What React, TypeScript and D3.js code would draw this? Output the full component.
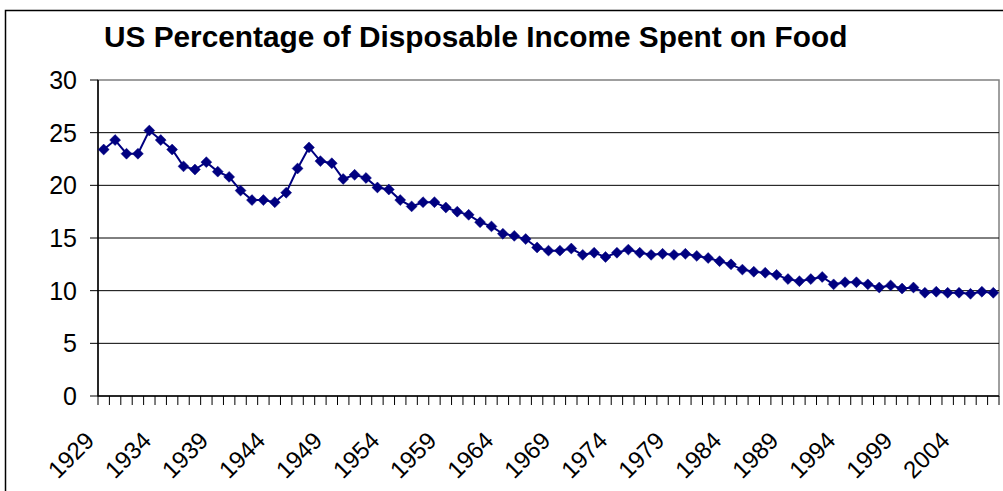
import React from "react";
import * as d3 from "d3";

const years: number[] = d3.range(1929, 2008);
const foodShare: number[] = [
  23.4, 24.3, 23.0, 23.0, 25.2, 24.3, 23.4, 21.8, 21.5, 22.2,
  21.3, 20.8, 19.5, 18.6, 18.6, 18.4, 19.3, 21.6, 23.6, 22.3,
  22.1, 20.6, 21.0, 20.7, 19.8, 19.6, 18.6, 18.0, 18.4, 18.4,
  17.9, 17.5, 17.2, 16.5, 16.1, 15.4, 15.2, 14.9, 14.1, 13.8,
  13.8, 14.0, 13.4, 13.6, 13.2, 13.6, 13.9, 13.6, 13.4, 13.5,
  13.4, 13.5, 13.3, 13.1, 12.8, 12.5, 12.0, 11.8, 11.7, 11.5,
  11.1, 10.9, 11.1, 11.3, 10.6, 10.8, 10.8, 10.6, 10.3, 10.5,
  10.2, 10.3, 9.8, 9.9, 9.8, 9.8, 9.7, 9.9, 9.8,
];
const yTicks: number[] = [0, 5, 10, 15, 20, 25, 30];
const xLabelYears: number[] = years.filter((y) => (y - 1929) % 5 === 0);
const title = "US Percentage of Disposable Income Spent on Food";

export default function App() {
  const W = 1003, H = 491;
  const left = 98, right = 999, top = 80, bottom = 396;
  const x = d3.scaleBand<number>().domain(years).range([left, right]).padding(0);
  const y = d3.scaleLinear().domain([0, 30]).range([bottom, top]);
  const bw = x.bandwidth();
  const cx = (yr: number) => (x(yr) as number) + bw / 2;
  const pts = years.map((yr, i) => [cx(yr), y(foodShare[i])] as [number, number]);
  const line = d3.line<[number, number]>()(pts) || "";
  const diamond = d3.symbol().type(d3.symbolDiamond2).size(76)() || "";
  const font = "'Liberation Sans', Arial, sans-serif";
  const navy = "#000080";

  return (
    <svg width={W} height={H} style={{ position: "absolute", left: 0, top: 0, background: "#fff" }}>
      <rect x={0} y={0} width={W} height={H} fill="#fff" />
      <rect x={5.5} y={10.5} width={W + 10} height={H + 10} fill="none" stroke="#000" strokeWidth={1.5} />
      <text x={104} y={47} fontFamily={font} fontWeight="bold" fontSize={29.8} fill="#000">{title}</text>
      {/* plot area border */}
      <rect x={left} y={top} width={right - left} height={bottom - top} fill="none" stroke="#808080" strokeWidth={1.5} />
      {/* gridlines */}
      {yTicks.filter((t) => t > 0 && t < 30).map((t) => (
        <line key={"g" + t} x1={left} x2={right} y1={y(t)} y2={y(t)} stroke="#000" strokeWidth={1} />
      ))}
      {/* y axis */}
      <line x1={left} x2={left} y1={top} y2={bottom} stroke="#000" strokeWidth={1.5} />
      {yTicks.map((t) => (
        <g key={"y" + t}>
          <line x1={left - 8} x2={left} y1={y(t)} y2={y(t)} stroke="#000" strokeWidth={1} />
          <text x={77} y={y(t)} dy="0.36em" textAnchor="end" fontFamily={font} fontSize={25} fill="#000">{t}</text>
        </g>
      ))}
      {/* x axis */}
      <line x1={left} x2={right} y1={bottom} y2={bottom} stroke="#000" strokeWidth={1.5} />
      {d3.range(years.length + 1).map((i) => (
        <line key={"xt" + i} x1={left + i * bw} x2={left + i * bw} y1={bottom} y2={bottom + 9} stroke="#000" strokeWidth={1} />
      ))}
      {xLabelYears.map((yr) => (
        <text key={"xl" + yr} transform={`translate(${cx(yr) - 8},${442}) rotate(-45)`} textAnchor="end"
          fontFamily={font} fontSize={24} fill="#000">{yr}</text>
      ))}
      {/* series */}
      <path d={line} fill="none" stroke={navy} strokeWidth={2} />
      {pts.map((p, i) => (
        <path key={"m" + i} d={diamond} transform={`translate(${p[0]},${p[1]})`} fill={navy} stroke={navy} strokeWidth={0.5} />
      ))}
    </svg>
  );
}
